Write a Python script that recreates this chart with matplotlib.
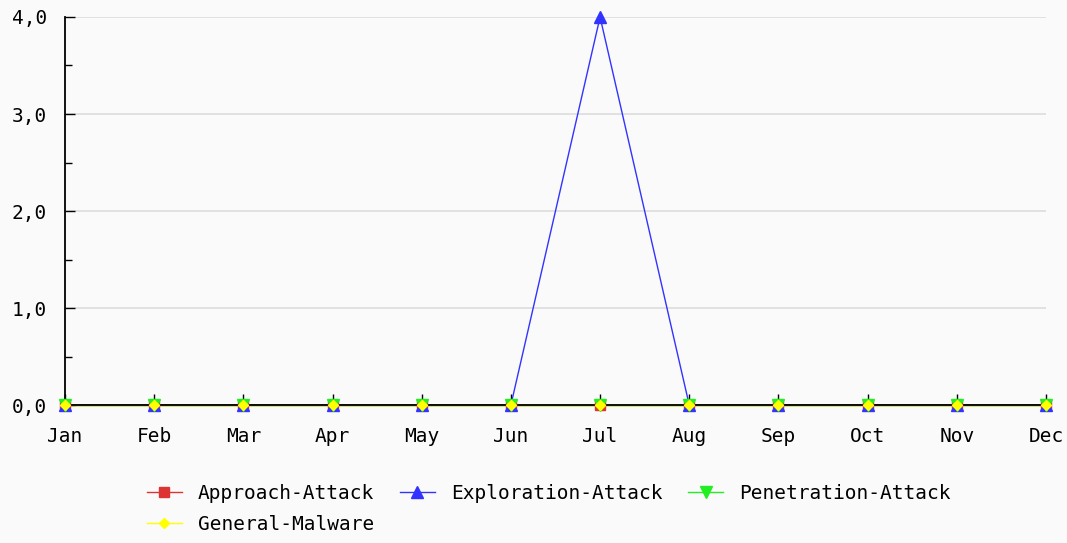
import matplotlib
matplotlib.use("Agg")
import matplotlib.pyplot as plt
from matplotlib.lines import Line2D
from matplotlib.ticker import FuncFormatter, MultipleLocator

months = ["Jan", "Feb", "Mar", "Apr", "May", "Jun", "Jul", "Aug", "Sep", "Oct", "Nov", "Dec"]
approach_attack = [0, 0, 0, 0, 0, 0, 0, 0, 0, 0, 0, 0]
exploration_attack = [0, 0, 0, 0, 0, 0, 4, 0, 0, 0, 0, 0]
penetration_attack = [0, 0, 0, 0, 0, 0, 0, 0, 0, 0, 0, 0]
general_malware = [0, 0, 0, 0, 0, 0, 0, 0, 0, 0, 0, 0]

series = [
    ("Approach-Attack", approach_attack, "#dd3333", "s", 7),
    ("Exploration-Attack", exploration_attack, "#3333ff", "^", 9),
    ("Penetration-Attack", penetration_attack, "#22ee22", "v", 9),
    ("General-Malware", general_malware, "#ffff00", "D", 5),
]

plt.rcParams['font.family'] = ['DejaVu Sans Mono']

fig = plt.figure(figsize=(10.67, 5.43), dpi=100, facecolor="#fafafa")
ax = fig.add_axes([0.0609, 0.2541, 0.9194, 0.7146])
ax.set_facecolor("#fafafa")

x = list(range(len(months)))
handles = {}
for i, (name, vals, col, mk, ms) in enumerate(series):
    ax.plot(x, vals, color=col, lw=1, clip_on=False, zorder=2)
    ax.plot(x, vals, color=col, lw=0, marker=mk, markersize=ms, clip_on=False, zorder=4 + i)
    handles[name] = Line2D([], [], color=col, lw=1, marker=mk, markersize=ms)

ax.set_xlim(0, len(months) - 1)
ax.set_ylim(0, 4)
ax.set_xticks(x)
ax.set_xticklabels(months)
ax.yaxis.set_major_locator(MultipleLocator(1))
ax.yaxis.set_minor_locator(MultipleLocator(0.5))
ax.yaxis.set_major_formatter(FuncFormatter(lambda v, p: f"{v:.1f}".replace(".", ",")))
ax.grid(axis="y", which="major", color="#dddddd", lw=1.2)
ax.set_axisbelow(True)

for s in ["top", "right"]:
    ax.spines[s].set_visible(False)
for s in ["left", "bottom"]:
    ax.spines[s].set_color("black")
    ax.spines[s].set_linewidth(1.3)
    ax.spines[s].set_zorder(3)

ax.tick_params(axis="x", direction="in", length=8, width=1, colors="black", labelsize=14, pad=16)
ax.tick_params(axis="y", which="major", direction="in", length=7, width=1, labelsize=14, pad=13)
ax.tick_params(axis="y", which="minor", direction="in", length=5, width=1)

order = ["Approach-Attack", "General-Malware", "Exploration-Attack", "Penetration-Attack"]
fig.legend([handles[n] for n in order], order,
           ncol=3, loc="upper left", bbox_to_anchor=(0.1284, 0.127), frameon=False,
           fontsize=14, handlelength=1.8, handletextpad=0.82, columnspacing=1.33,
           labelspacing=0.62, borderpad=0)

fig.savefig("out.png", dpi=100, facecolor=fig.get_facecolor())
